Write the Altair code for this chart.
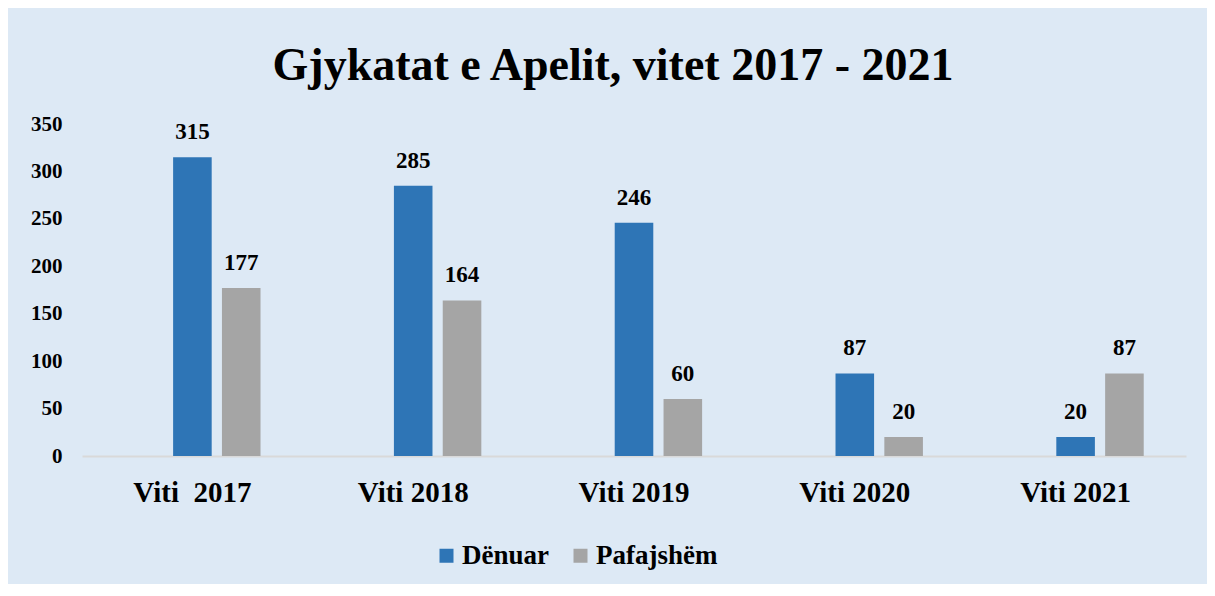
import altair as alt
import pandas as pd

years = ["Viti\u00a0 2017", "Viti 2018", "Viti 2019", "Viti 2020", "Viti 2021"]
denuar = [315, 285, 246, 87, 20]
pafajshem = [177, 164, 60, 20, 87]
series = ["Dënuar", "Pafajshëm"]
colors = ["#2e75b6", "#a5a5a5"]

rows = []
for i, y in enumerate(years):
    rows.append({"year": y, "series": series[0], "value": denuar[i]})
    rows.append({"year": y, "series": series[1], "value": pafajshem[i]})
df = pd.DataFrame(rows)

FONT = "'Liberation Serif', 'Times New Roman', 'DejaVu Serif', serif"

x = alt.X("year:N", sort=years, title=None,
          scale=alt.Scale(paddingInner=0.383, paddingOuter=0.1915),
          axis=alt.Axis(labelAngle=0, labelFont=FONT, labelFontSize=29, labelFontWeight="bold",
                        labelColor="#000000", labelPadding=22, ticks=False,
                        domainColor="#d9d9d9", domainWidth=2, grid=False))
xo = alt.XOffset("series:N", scale=alt.Scale(domain=[" ", "Dënuar", "Pafajshëm"],
                                             paddingInner=0.21, paddingOuter=0))
y = alt.Y("value:Q", title=None,
          scale=alt.Scale(domain=[0, 350]),
          axis=alt.Axis(values=[0, 50, 100, 150, 200, 250, 300, 350], labelFont=FONT,
                        labelFontSize=21, labelFontWeight="bold", labelColor="#000000",
                        labelPadding=20, ticks=False, domain=False, grid=False))

bars = alt.Chart(df).mark_bar().encode(
    x=x, xOffset=xo, y=y,
    color=alt.Color("series:N", scale=alt.Scale(domain=series, range=colors),
                    legend=alt.Legend(title=None, orient="none", direction="horizontal",
                                      legendX=351, legendY=418,
                                      symbolType="square", symbolSize=196,
                                      symbolStrokeWidth=0, labelFont=FONT,
                                      labelFontSize=27, labelFontWeight="bold",
                                      labelColor="#000000", labelOffset=2,
                                      columnPadding=18)),
)

labels = alt.Chart(df).mark_text(font=FONT, fontSize=23, fontWeight="bold", color="#000000",
                                 baseline="alphabetic", dy=-18).encode(
    x=x, xOffset=xo, y=y, text="value:Q")

chart = alt.layer(bars, labels).properties(
    width=1104, height=332,
    padding={"left": 74, "top": 116, "right": 21, "bottom": 128},
    autosize=alt.AutoSizeParams(type="none"),
    background="#dde9f5",
    title=alt.Title("Gjykatat e Apelit, vitet 2017 - 2021", font=FONT, fontSize=46,
                    fontWeight="bold", color="#000000", anchor="middle", dx=-21, offset=23),
).configure_view(stroke=None)

chart.save("out.html", embed_options={"renderer": "svg", "actions": False})
